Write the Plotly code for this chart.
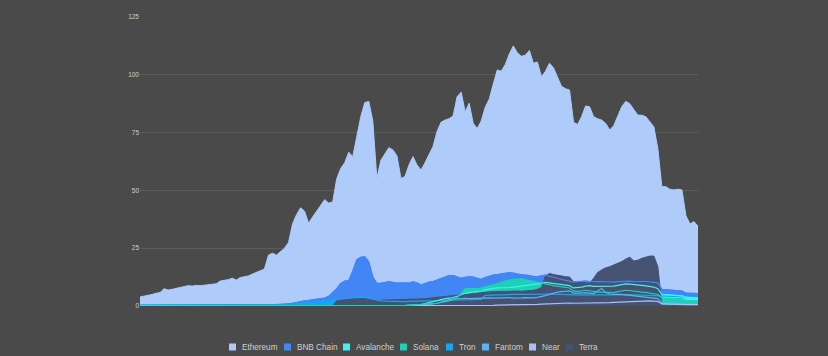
import plotly.graph_objects as go
import pandas as pd

# ---------------- data (TVL, billions USD; 5-day samples) ----------------
start_date = "2020-08-01"

names = ["Ethereum", "BNB Chain", "Avalanche", "Solana", "Tron", "Fantom", "Near", "Terra"]

ethereum = [3.9,4.2,4.6,5.0,5.5,5.8,7.5,6.9,7.2,7.6,
 8.2,8.4,8.8,8.6,8.9,8.8,9.0,8.9,9.2,9.6,
 10.8,11.0,11.4,12.0,11.2,12.3,12.6,13.0,13.8,14.5,
 15.2,16.0,22.0,22.8,22.0,23.5,25.0,27.5,35.5,39.5,
 42.5,41.0,35.8,38.5,41.0,43.7,46.0,44.5,45.0,55.0,
 59.5,62.0,66.5,64.6,73.0,81.9,88.0,88.5,80.0,55.2,
 63.0,66.0,68.5,67.5,65.0,55.2,56.0,61.0,64.6,61.0,
 58.8,62.0,65.5,69.0,75.5,79.5,80.4,81.0,82.2,90.5,
 92.5,84.0,87.7,79.0,76.8,80.0,86.0,89.5,96.0,102.1,
 101.5,104.5,109.0,112.5,109.5,108.0,108.5,110.5,105.0,105.5,
 99.2,101.5,105.0,103.0,99.0,95.0,94.0,93.4,79.5,78.5,
 81.9,86.5,86.2,81.9,81.0,80.4,79.0,76.1,78.0,82.5,
 86.2,88.5,87.5,85.0,82.6,82.5,81.9,79.7,77.5,68.0,
 51.6,51.6,50.5,50.2,50.5,50.2,39.0,35.5,36.5,34.5]

bnb_chain = [0,0,0,0,0,0,0,0,0,0,
 0.05,0.05,0.05,0.05,0.1,0.1,0.1,0.1,0.1,0.1,
 0.1,0.1,0.15,0.15,0.15,0.2,0.2,0.2,0.25,0.25,
 0.3,0.3,0.35,0.4,0.45,0.5,0.7,0.9,1.2,1.6,
 1.9,2.2,2.4,2.6,2.8,3.1,3.4,4.2,5.8,7.5,
 9.8,10.8,11.0,15.0,20.0,21.1,21.3,19.0,12.5,9.8,
 9.8,10.3,10.5,10.2,9.9,10.0,9.8,9.9,10.4,10.0,
 9.1,9.8,10.3,10.6,11.3,12.0,12.6,13.2,13.2,12.5,
 12.0,12.4,12.7,12.5,12.1,11.5,12.3,12.9,13.4,13.6,
 13.9,14.2,14.4,14.2,13.8,13.5,13.4,13.0,12.8,12.7,
 13.0,13.4,12.8,12.5,12.0,11.5,11.0,10.8,10.3,10.5,
 10.7,10.8,10.6,10.4,10.5,10.6,10.4,10.2,10.3,10.5,
 10.7,10.9,10.8,10.6,10.5,10.6,10.7,10.5,10.3,10.0,
 7.2,7.0,7.0,6.8,6.5,6.5,5.6,5.5,5.6,5.4]

avalanche = [0]*60 + [
 0,0,0,0,0.2,0.3,0.3,0.4,0.4,0.5,
 0.6,1.0,1.5,2.0,2.5,3.0,3.2,3.4,3.6,4.2,
 5.0,5.5,5.8,6.0,6.2,6.5,7.0,7.4,7.6,7.8,
 7.8,7.9,8.0,8.2,8.4,8.6,8.8,9.0,9.3,9.6,
 9.8,10.2,10.0,9.7,9.4,9.2,9.0,8.8,7.8,7.9,
 8.2,8.6,8.8,8.5,8.5,8.6,8.6,8.4,8.6,8.9,
 9.3,9.6,9.5,9.2,9.0,8.9,8.7,8.6,8.2,7.5,
 5.0,4.9,4.8,4.6,4.5,4.4,3.8,3.6,3.6,3.5]

solana = [0]*65 + [
 0.2,0.3,0.3,0.4,0.5,
 0.6,0.7,0.8,1.0,1.2,1.5,1.8,2.2,2.8,3.5,
 5.5,7.5,7.6,7.4,7.5,7.8,8.2,8.5,9.0,9.6,
 10.2,10.8,11.2,11.4,11.6,11.7,11.3,11.0,10.5,10.3,
 10.0,9.6,9.2,8.8,8.5,8.2,8.0,7.8,6.5,6.3,
 6.5,6.8,6.6,6.2,6.0,6.0,5.9,5.6,5.8,6.2,
 6.6,6.8,6.7,6.4,6.1,6.0,5.9,5.7,5.4,5.0,
 3.4,3.3,3.3,3.2,3.1,3.1,2.3,2.1,2.2,2.1]

tron = [0.4,0.4,0.4,0.4,0.4,0.4,0.4,0.4,0.4,0.4,
 0.4,0.4,0.4,0.4,0.4,0.4,0.4,0.4,0.4,0.4,
 0.4,0.4,0.4,0.4,0.4,0.4,0.4,0.4,0.4,0.4,
 0.4,0.4,0.45,0.5,0.55,0.6,0.7,0.8,0.9,1.0,
 1.0,1.2,1.4,1.6,1.8,2.0,2.2,2.5,2.8,3.0,
 3.3,3.5,3.6,3.8,4.0,4.0,3.8,3.4,2.8,2.3,
 2.2,2.1,2.0,2.0,1.9,1.9,1.9,2.0,2.0,2.1,
 2.1,2.2,2.2,2.3,2.3,2.4,2.4,2.5,2.5,2.6,
 2.6,2.7,2.7,2.8,2.8,2.9,4.6,4.7,4.7,4.8,
 4.8,4.9,4.9,5.0,5.0,4.9,4.9,5.0,5.0,5.1,
 5.1,5.2,5.2,5.1,5.0,5.0,4.9,4.9,4.6,4.6,
 4.7,4.8,4.8,4.7,4.6,4.6,4.6,4.5,4.6,4.7,
 4.8,4.9,4.9,4.8,4.7,4.7,4.6,4.6,4.5,4.4,
 4.2,4.2,4.1,4.1,4.0,4.0,3.9,3.9,3.9,3.8]

fantom = [0]*60 + [
 0.1,0.1,0.1,0.1,0.1,0.2,0.2,0.2,0.3,0.3,
 0.4,0.5,0.7,0.9,1.2,1.6,2.2,2.8,3.0,3.1,
 3.2,3.3,3.2,3.3,3.4,3.3,3.4,3.5,3.4,3.5,
 3.6,3.5,3.6,3.4,3.3,3.5,3.6,3.4,3.5,3.7,
 4.0,4.5,5.0,5.6,6.0,6.2,6.4,6.5,5.6,5.5,
 5.6,5.8,5.6,5.4,6.5,7.6,5.8,5.2,5.0,5.1,
 5.0,4.8,4.6,4.4,4.2,4.0,3.9,3.7,3.5,3.2,
 1.4,1.3,1.3,1.2,1.2,1.1,0.9,0.9,0.8,0.8]

near = [0]*80 + [
 0.1,0.1,0.2,0.2,0.2,0.3,0.3,0.3,0.3,0.4,
 0.4,0.4,0.5,0.5,0.5,0.6,0.6,0.6,0.7,0.7,
 0.8,0.9,1.0,1.1,1.2,1.2,1.3,1.3,1.2,1.2,
 1.3,1.3,1.3,1.4,1.4,1.5,1.5,1.5,1.6,1.7,
 1.8,1.9,2.0,2.0,2.1,2.1,2.2,2.2,2.1,2.0,
 0.9,0.8,0.8,0.8,0.7,0.7,0.6,0.6,0.6,0.6]

terra = [0]*49 + [
 2.4,
 2.8,2.9,3.0,3.1,3.2,3.3,3.2,3.0,2.6,2.4,
 2.5,2.6,2.7,2.7,2.8,2.7,2.8,2.9,3.0,3.0,
 3.0,3.2,3.4,3.6,3.8,4.0,4.2,4.4,4.6,4.8,
 5.0,5.2,5.4,5.5,5.6,5.8,6.0,6.1,6.2,6.3,
 6.3,6.4,6.5,6.6,6.5,6.4,6.5,6.6,6.8,7.2,
 8.0,13.0,14.1,13.6,13.2,12.9,12.7,12.5,10.5,10.3,
 10.5,10.1,9.8,12.0,14.5,15.6,16.5,17.0,17.7,18.5,
 19.2,20.3,21.1,19.5,19.8,20.6,21.0,21.6,21.6,17.0,
 0.4,0.3,0.3,0.3,0.3,0.3,0.3,0.3,0.3,0.3]

y_ticks = [0, 25, 50, 75, 100, 125]

# ---------------- styles ----------------
colors = {
    "Ethereum": "#aecbfa",
    "BNB Chain": "#4285f4",
    "Avalanche": "#3ef0f8",
    "Solana": "#1dd1b4",
    "Tron": "#14a6f2",
    "Fantom": "#5ab2f2",
    "Near": "#a9c0f6",
    "Terra": "#465272",
}
values = {
    "Ethereum": ethereum, "BNB Chain": bnb_chain, "Avalanche": avalanche,
    "Solana": solana, "Tron": tron, "Fantom": fantom, "Near": near, "Terra": terra,
}
BG = "#4a4a4a"
GRID = "#5c5c5c"
TXT = "#cfcfcf"
FONT = "Liberation Sans, Arial, sans-serif"

dates = pd.date_range(start_date, periods=len(ethereum), freq="5D")

fig = go.Figure()

fill_order = ["Ethereum", "BNB Chain", "Tron", "Fantom", "Near", "Avalanche", "Solana", "Terra"]
for n in fill_order:
    fig.add_trace(go.Scatter(
        x=dates, y=values[n], name=n, mode="lines",
        line=dict(color=colors[n], width=1),
        fill="tozeroy", fillcolor=colors[n], showlegend=False,
        hoverinfo="skip"))

line_order = ["BNB Chain", "Tron", "Fantom", "Near", "Avalanche", "Solana"]
for n in line_order:
    fig.add_trace(go.Scatter(
        x=dates, y=values[n], name=n, mode="lines",
        line=dict(color=colors[n], width=1.2), showlegend=False,
        hoverinfo="skip"))

# ---------------- custom legend ----------------
PLOT_L, PLOT_R, PLOT_T, PLOT_B = 140, 698, 17, 306
def px_x(px):
    return (px - PLOT_L) / (PLOT_R - PLOT_L)
def px_y(py):
    return (PLOT_B - py) / (PLOT_B - PLOT_T)

legend_swatch_px = [229, 284, 343, 400, 446, 482, 529, 566]
legend_y = 347
sw = 7
shapes = []
annotations = []
for n, sx in zip(names, legend_swatch_px):
    shapes.append(dict(type="rect", xref="paper", yref="paper",
                       x0=px_x(sx), x1=px_x(sx + sw),
                       y0=px_y(legend_y + sw / 2), y1=px_y(legend_y - sw / 2),
                       fillcolor=colors[n], line=dict(width=0)))
    annotations.append(dict(xref="paper", yref="paper", x=px_x(sx + sw + 4),
                            y=px_y(legend_y), xanchor="left", yanchor="middle",
                            text=n, showarrow=False,
                            font=dict(size=8.2, color=TXT, family=FONT)))

fig.update_layout(
    width=828, height=356,
    margin=dict(l=PLOT_L, r=828 - PLOT_R, t=PLOT_T, b=356 - PLOT_B),
    paper_bgcolor=BG, plot_bgcolor=BG,
    font=dict(family=FONT, color=TXT),
    shapes=shapes, annotations=annotations,
    xaxis=dict(visible=False, range=[dates[0], dates[-1]], showgrid=False),
    yaxis=dict(range=[0, 125], tickvals=y_ticks, ticktext=[str(t) for t in y_ticks],
               showgrid=True, gridcolor=GRID, gridwidth=1, zeroline=False,
               showline=False, ticks="", tickfont=dict(size=6.5, color=TXT, family=FONT)),
    showlegend=False,
)

page_fix = ("document.body.style.margin='0';document.body.style.padding='0';"
            "document.body.style.background='" + BG + "';"
            "document.documentElement.style.background='" + BG + "';")
fig.write_html("out.html", post_script=page_fix, config={"displayModeBar": False})
